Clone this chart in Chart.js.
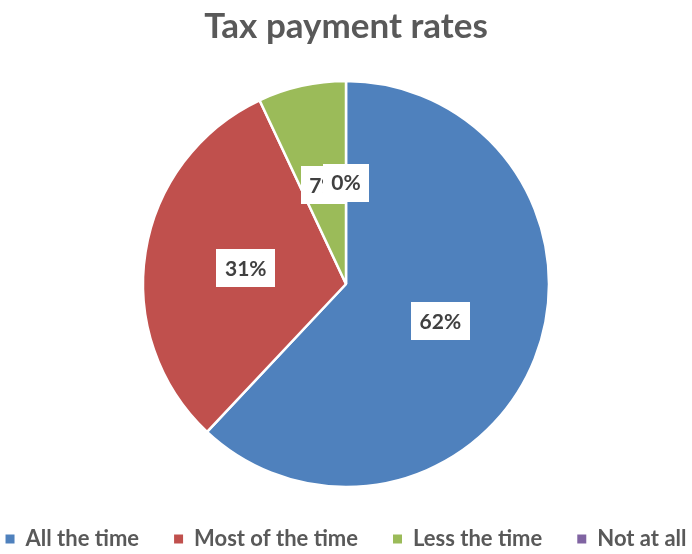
<!DOCTYPE html>
<html>
<head>
<meta charset="utf-8">
<script src="https://cdn.jsdelivr.net/npm/chart.js@4/dist/chart.umd.min.js"></script>
<style>
  html, body { margin: 0; padding: 0; background: #ffffff; }
  #wrap { width: 692px; height: 554px; position: relative; }
</style>
</head>
<body>
<div id="wrap"><canvas id="c"></canvas></div>
<script>
// Survey answers: how often respondents pay their taxes
const categories = ['All the time', 'Most of the time', 'Less the time', 'Not at all'];
const shares = [62, 31, 7, 0];
const sliceColors = ['#4F81BD', '#C0504D', '#9BBB59', '#8064A2'];

const FONT = "Lato, 'Open Sans', 'DejaVu Sans', sans-serif";

// White boxed percentage label at the middle of each slice
const boxedLabels = {
  id: 'boxedLabels',
  afterDatasetsDraw(chart) {
    const { ctx } = chart;
    const meta = chart.getDatasetMeta(0);
    ctx.save();
    ctx.font = 'bold 21px ' + FONT;
    ctx.textAlign = 'center';
    ctx.textBaseline = 'middle';
    meta.data.forEach((arc, i) => {
      const p = arc.getCenterPoint();
      const text = shares[i] + '%';
      const w = ctx.measureText(text).width + 17;
      const h = 38;
      ctx.fillStyle = '#ffffff';
      ctx.fillRect(Math.round(p.x - w / 2), Math.round(p.y - h / 2), Math.round(w), h);
      ctx.fillStyle = '#404040';
      ctx.fillText(text, p.x, p.y + 1);
    });
    ctx.restore();
  }
};

// Legend entries: plain filled squares, en spaces after all but the last to widen the gaps
function legendItems(chart) {
  const items = Chart.overrides.pie.plugins.legend.labels.generateLabels(chart);
  items.forEach((it, i) => {
    it.lineWidth = 0;
    it.strokeStyle = 'rgba(0,0,0,0)';
    if (i < items.length - 1) it.text = it.text + '\u2002\u2002\u2002';
  });
  return items;
}

new Chart(document.getElementById('c'), {
  type: 'pie',
  data: {
    labels: categories,
    datasets: [{
      data: shares,
      backgroundColor: sliceColors,
      borderColor: '#ffffff',
      borderWidth: 2.5,
      radius: 203
    }]
  },
  options: {
    responsive: true,
    maintainAspectRatio: false,
    animation: false,
    layout: { padding: { left: 0, right: 0, top: 0, bottom: -6 } },
    plugins: {
      title: {
        display: true,
        text: 'Tax payment rates',
        color: '#595959',
        font: { family: FONT, size: 35, weight: 'bold' },
        padding: { top: 6, bottom: -6 }
      },
      legend: {
        position: 'bottom',
        labels: {
          color: '#595959',
          font: { family: FONT, size: 22, weight: 'bold' },
          boxWidth: 9,
          boxHeight: 9,
          padding: 2,
          generateLabels: legendItems
        }
      },
      tooltip: { enabled: false }
    }
  },
  plugins: [boxedLabels]
});
</script>
</body>
</html>
